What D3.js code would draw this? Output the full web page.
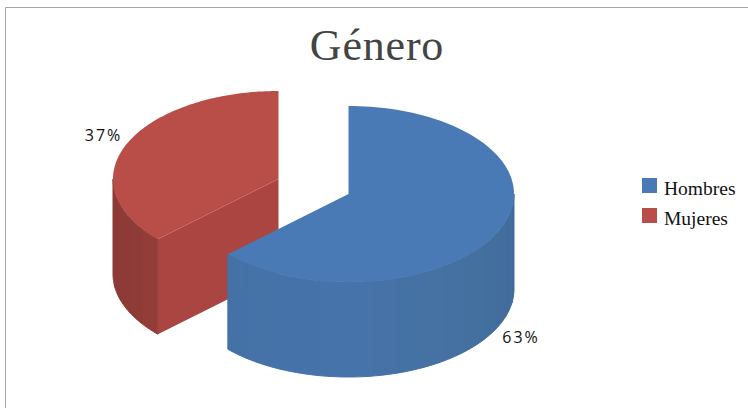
<!DOCTYPE html>
<html>
<head>
<meta charset="utf-8">
<script src="https://cdn.jsdelivr.net/npm/d3@7"></script>
<style>
  html, body { margin: 0; padding: 0; background: #fff; }
  svg { display: block; }
</style>
</head>
<body>
<svg id="chart" width="748" height="408"></svg>
<script>
const categories = ["Hombres", "Mujeres"];
const values = [63, 37];
const labels = ["63%", "37%"];

const topColors = ["#4a7ab6", "#b94e48"];
const blueRamp = ["#3f6a9b", "#44709f", "#4673aa", "#4472a6"];
const redRamp = ["#9a3f3b", "#8f3b38", "#8c3a37"];
const cutColor = "#ab4541";

const svg = d3.select("#chart");

// frame, only the top and left lines show in the original
svg.append("path")
  .attr("d", "M5.5,408V7.5H748")
  .attr("fill", "none")
  .attr("stroke", "#a6a6a6");

// pie in a tilted view
const rx = 165.5, ry = 88, depth = 95;
const centers = [[348.5, 194], [278.5, 179]]; // the red slice is pulled out

const pie = d3.pie().sort(null).startAngle(0).endAngle(2 * Math.PI);
const slices = pie(values);

const px = (c, a) => c[0] + rx * Math.sin(a);
const py = (c, a) => c[1] - ry * Math.cos(a);

const steps = (a0, a1, n) => d3.range(n + 1).map((i) => a0 + (a1 - a0) * i / n);

const line = d3.line();

// side wall between two angles, cut into bands like the original shading
const drawSide = (g, c, a0, a1, color) => {
  const n = Math.max(4, Math.round((a1 - a0) / 0.16));
  const edges = steps(a0, a1, n);
  d3.pairs(edges).forEach(([b0, b1]) => {
    const arc = steps(b0, b1, 6).map((a) => [px(c, a), py(c, a)]);
    const lower = arc.slice().reverse().map(([x, y]) => [x, y + depth]);
    g.append("path")
      .attr("d", line(arc.concat(lower)) + "Z")
      .attr("fill", color((b0 + b1) / 2))
      .attr("stroke", color((b0 + b1) / 2))
      .attr("stroke-width", 1);
  });
};

const drawTop = (g, c, d, fill) => {
  const arc = steps(d.startAngle, d.endAngle, 120).map((a) => [px(c, a), py(c, a)]);
  g.append("path")
    .attr("d", line([c].concat(arc)) + "Z")
    .attr("fill", fill);
};

// red first, the blue slice overlaps it
const red = svg.append("g");
{
  const d = slices[1];
  const c = centers[1];
  const p = [px(c, d.startAngle), py(c, d.startAngle)];
  red.append("path")
    .attr("d", line([c, p, [p[0], p[1] + depth], [c[0], c[1] + depth]]) + "Z")
    .attr("fill", cutColor);
  const color = d3.scaleLinear()
    .domain([d.startAngle, 1.3 * Math.PI, 1.5 * Math.PI])
    .range(redRamp);
  drawSide(red, c, d.startAngle, 1.5 * Math.PI, color);
  drawTop(red, c, d, topColors[1]);
}

const blue = svg.append("g");
{
  const d = slices[0];
  const c = centers[0];
  const color = d3.scaleLinear()
    .domain([0.5 * Math.PI, 0.72 * Math.PI, Math.PI, d.endAngle])
    .range(blueRamp);
  drawSide(blue, c, 0.5 * Math.PI, d.endAngle, color);
  drawTop(blue, c, d, topColors[0]);
}

// title
svg.append("text")
  .attr("x", 377).attr("y", 60)
  .attr("text-anchor", "middle")
  .attr("font-family", "'Liberation Serif', serif")
  .attr("font-size", 44)
  .attr("letter-spacing", 0.8)
  .attr("fill", "#444")
  .text("Género");

// data labels
const labelPos = [[521, 343], [103.5, 141]];
svg.selectAll("text.lab")
  .data(labels)
  .join("text")
  .attr("class", "lab")
  .attr("x", (d, i) => labelPos[i][0])
  .attr("y", (d, i) => labelPos[i][1])
  .attr("text-anchor", "middle")
  .attr("font-family", "'Open Sans', sans-serif")
  .attr("font-size", 16)
  .attr("letter-spacing", 2)
  .attr("fill", "#111")
  .text((d) => d);

// legend
const legend = svg.selectAll("g.leg")
  .data(categories)
  .join("g")
  .attr("class", "leg")
  .attr("transform", (d, i) => `translate(642,${178 + i * 30})`);
legend.append("rect")
  .attr("width", 15).attr("height", 15)
  .attr("fill", (d, i) => topColors[i]);
legend.append("text")
  .attr("x", 22).attr("y", 17)
  .attr("font-family", "'Liberation Serif', serif")
  .attr("font-size", 19.5)
  .attr("fill", "#111")
  .text((d) => d);
</script>
</body>
</html>
